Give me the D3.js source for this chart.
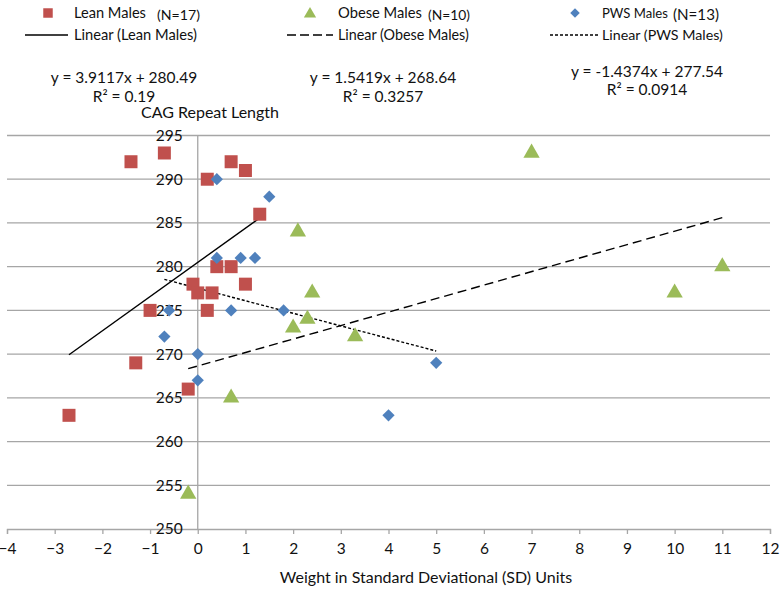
<!DOCTYPE html>
<html><head><meta charset="utf-8">
<script src="https://cdn.jsdelivr.net/npm/d3@7"></script>
<style>
body{margin:0;background:#fff;}
text{font-family:Lato,"Open Sans",sans-serif;fill:#111;}
</style></head>
<body><svg id="c" width="780" height="590"></svg>
<script>
const leanX = [-1.4,-0.7,0.2,0.7,1.0,1.3,0.4,0.7,1.0,-0.1,0,0.3,0.2,-1.0,-1.3,-0.2,-2.7];
const leanY = [292,293,290,292,291,286,280,280,278,278,277,277,275,275,269,266,263];
const obeseX = [7,2.1,2.4,10,11,2.0,2.3,3.3,0.7,-0.2];
const obeseY = [293,284,277,277,280,273,274,272,265,254];
const pwsX = [0.4,1.5,0.4,0.9,1.2,-0.6,0.7,1.8,-0.7,0,0,4,5];
const pwsY = [290,288,281,281,281,275,275,275,272,270,267,263,269];
const xTicks = [-4,-3,-2,-1,0,1,2,3,4,5,6,7,8,9,10,11,12];
const yTicks = [250,255,260,265,270,275,280,285,290,295];
const seriesNames = ["Lean Males","Obese Males","PWS Males"];
const seriesN = ["(N=17)","(N=10)","(N=13)"];
const trendNames = ["Linear (Lean Males)","Linear (Obese Males)","Linear (PWS Males)"];
const slopes = [3.9117,1.5419,-1.4374];
const intercepts = [280.49,268.64,277.54];
const eqTexts = ["y = 3.9117x + 280.49","y = 1.5419x + 268.64","y = -1.4374x + 277.54"];
const r2Texts = ["R² = 0.19","R² = 0.3257","R² = 0.0914"];
const colors = ["#C0504D","#9BBB59","#4F81BD"];

const svg = d3.select("#c");
const x = d3.scaleLinear().domain([-4,12]).range([7,770]);
const y = d3.scaleLinear().domain([250,295]).range([529,135.5]);

function fit(sel, w){
  const n = sel.node(); const fs = +sel.attr("font-size");
  const len = n.getComputedTextLength();
  if(len > 0) sel.attr("font-size", Math.min(17, fs * w / len));
  return sel;
}

// gridlines
svg.append("g").selectAll("line").data(yTicks.slice(1)).join("line")
  .attr("x1",x(-4)).attr("x2",x(12)).attr("y1",d=>y(d)).attr("y2",d=>y(d))
  .attr("stroke","#A6A6A6").attr("stroke-width",1.3);

// vertical axis at x=0
svg.append("line").attr("x1",x(0)).attr("x2",x(0)).attr("y1",y(250)).attr("y2",y(295))
  .attr("stroke","#A6A6A6").attr("stroke-width",1.3);

// x axis
const xAxis = d3.axisBottom(x).tickValues(xTicks).tickSize(5).tickPadding(9).tickFormat(d3.format("d"));
const gx = svg.append("g").attr("transform",`translate(0,${y(250)})`).call(xAxis);
gx.select(".domain").attr("stroke","#A6A6A6").attr("stroke-width",1.3);
gx.selectAll(".tick line").attr("stroke","#A6A6A6").attr("stroke-width",1.3);
gx.selectAll(".tick text").attr("font-size",15.5).attr("font-family","Lato").attr("fill","#111");

// y labels near axis
const yAxis = d3.axisLeft(y).tickValues(yTicks).tickSize(0).tickPadding(15);
const gy = svg.append("g").attr("transform",`translate(${x(0)},0)`).call(yAxis);
gy.select(".domain").remove();
gy.selectAll(".tick text").attr("font-size",15.5).attr("font-family","Lato").attr("fill","#111");

// trendlines
const ranges = [[d3.min(leanX),d3.max(leanX)],[d3.min(obeseX),d3.max(obeseX)],[d3.min(pwsX),d3.max(pwsX)]];
const dashes = [null,"9,5","3,2"];
ranges.forEach((r,i)=>{
  svg.append("line").attr("x1",x(r[0])).attr("x2",x(r[1]))
    .attr("y1",y(slopes[i]*r[0]+intercepts[i])).attr("y2",y(slopes[i]*r[1]+intercepts[i]))
    .attr("stroke","#000").attr("stroke-width",1.4).attr("stroke-dasharray",dashes[i]);
});

// markers
const sq = d3.symbol().type(d3.symbolSquare).size(169);
const tri = d3.symbol().type(d3.symbolTriangle).size(115);
const dia = d3.symbol().type(d3.symbolSquare).size(75);
svg.append("g").selectAll("path").data(d3.zip(leanX,leanY)).join("path")
  .attr("d",sq).attr("transform",d=>`translate(${x(d[0])},${y(d[1])})`).attr("fill",colors[0]);
svg.append("g").selectAll("path").data(d3.zip(obeseX,obeseY)).join("path")
  .attr("d",tri).attr("transform",d=>`translate(${x(d[0])},${y(d[1])})`).attr("fill",colors[1]);
svg.append("g").selectAll("path").data(d3.zip(pwsX,pwsY)).join("path")
  .attr("d",dia).attr("transform",d=>`translate(${x(d[0])},${y(d[1])}) rotate(45)`).attr("fill",colors[2]);

// legend
const legMarkX = [48,310,575];
const legTextX = [74,338,602];
const legNX = [157,428,673];
const nameW = [72,84,66];
const nW = [43,42,46];
const trendW = [123,131,121];
const lineX = [[25,68],[287,333],[550,598]];
const legSyms = [d3.symbol().type(d3.symbolSquare).size(90)(), d3.symbol().type(d3.symbolTriangle).size(65)(), d3.symbol().type(d3.symbolSquare).size(45)()];
for(let i=0;i<3;i++){
  svg.append("path").attr("d",legSyms[i]).attr("fill",colors[i])
    .attr("transform",`translate(${legMarkX[i]},${i==1?14:13})${i==2?" rotate(45)":""}`);
  fit(svg.append("text").attr("x",legTextX[i]).attr("y",18).attr("font-size",16).text(seriesNames[i]), nameW[i]);
  fit(svg.append("text").attr("x",legNX[i]).attr("y",20).attr("font-size",15).text(seriesN[i]), nW[i]);
  svg.append("line").attr("x1",lineX[i][0]).attr("x2",lineX[i][1]).attr("y1",35).attr("y2",35)
    .attr("stroke","#000").attr("stroke-width",1.3).attr("stroke-dasharray",i==1?"9,4":(i==2?"3,2":null));
  fit(svg.append("text").attr("x",legTextX[i]).attr("y",40).attr("font-size",16).text(trendNames[i]), trendW[i]);
}

// equations
const eqX = [124,383,647];
const eqY = [83,83,77];
const r2Y = [102,102,95];
for(let i=0;i<3;i++){
  svg.append("text").attr("x",eqX[i]).attr("y",eqY[i]).attr("font-size",15.5).attr("text-anchor","middle").text(eqTexts[i]);
  svg.append("text").attr("x",eqX[i]).attr("y",r2Y[i]).attr("font-size",15.5).attr("text-anchor","middle").text(r2Texts[i]);
}

// axis titles
svg.append("text").attr("x",210).attr("y",118).attr("font-size",16).attr("text-anchor","middle").text("CAG Repeat Length");
svg.append("text").attr("x",426).attr("y",583).attr("font-size",16).attr("text-anchor","middle").text("Weight in Standard Deviational (SD) Units");
</script></body></html>
